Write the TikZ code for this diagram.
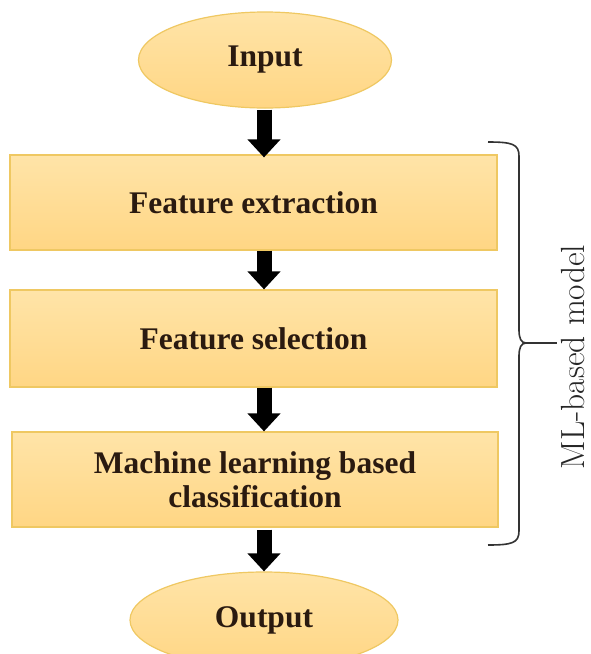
\documentclass[tikz,border=0pt]{standalone}
\usepackage{fontspec}
\newfontfamily\boxfont{Liberation Serif}
\usetikzlibrary{shapes.geometric,arrows.meta}
\definecolor{fillA}{HTML}{FFE4A8}
\definecolor{fillB}{HTML}{FFD684}
\definecolor{edgeC}{HTML}{EFC862}
\definecolor{txtC}{HTML}{2A1A10}
\tikzset{
  stepbox/.style={rectangle, draw=edgeC, line width=1.2pt, top color=fillA, bottom color=fillB,
    minimum width=487pt, minimum height=95pt, inner sep=0pt, align=center,
    font=\boxfont\bfseries\fontsize{31.5}{34}\selectfont, text=txtC},
  term/.style={ellipse, draw=edgeC, line width=1.2pt, top color=fillA, bottom color=fillB,
    inner sep=0pt, font=\boxfont\bfseries\fontsize{31.5}{34}\selectfont, text=txtC},
  flowarrow/.style={line width=15pt, black, -{Triangle[width=32pt,length=18pt]}},
  bracepath/.style={draw=black!80, line width=1.6pt},
}
\begin{document}
\begin{tikzpicture}[x=1pt,y=-1pt]
\clip (0,0) rectangle (590,654);
\fill[white] (0,0) rectangle (590,654);
\node[term, minimum width=253pt, minimum height=96pt] (in) at (265,60) {Input};
\node[stepbox] (b1) at (253.5,202.5) {Feature extraction};
\node[stepbox, minimum height=97pt] (b2) at (253.5,338.5) {Feature selection};
\node[stepbox, minimum width=486pt] (b3) at (255,479.5) {Machine learning based\\classification};
\node[term, minimum width=268pt, minimum height=96pt] (out) at (264,620) {Output};
\coordinate (ax) at (264,0);
\draw[flowarrow] (in.south -| ax) ++(0,1) -- ([yshift=-3pt]b1.north -| ax);
\draw[flowarrow] (b1.south -| ax) -- (b2.north -| ax);
\draw[flowarrow] (b2.south -| ax) -- (b3.north -| ax);
\draw[flowarrow] (b3.south -| ax) ++(0,2) -- (out.north -| ax);
% brace
\coordinate (bt) at (488,142);
\coordinate (bb) at (488,545);
\coordinate (bm) at (526,343);
\coordinate (btip) at (557,343);
\draw[bracepath] (bt) .. controls (512,142) and (519,144) .. (519,156)
  -- (519,330) .. controls (519,338) and (521,343) .. (bm)
  .. controls (521,343) and (519,348) .. (519,356)
  -- (519,531) .. controls (519,543) and (512,545) .. (bb);
\draw[bracepath] (bm) -- (btip);
\node[rotate=90, anchor=base, inner sep=0pt, font=\fontsize{33.5}{36}\selectfont, text=black!85] (lbl) at (584,357) {ML-based model};
\end{tikzpicture}
\end{document}
